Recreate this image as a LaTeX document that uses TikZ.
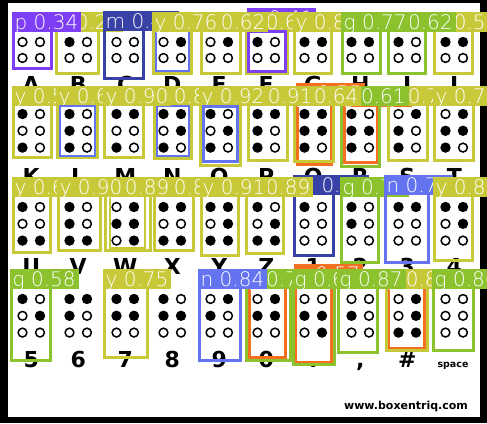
\documentclass[tikz,border=0pt]{standalone}
\usepackage{fontspec}
\setmainfont{DejaVu Sans}
\newfontfamily\tabfont{DejaVu Sans ExtraLight}
\usetikzlibrary{positioning}

\definecolor{detyellow}{RGB}{199,201,56}
\definecolor{detgreen}{RGB}{139,194,45}
\definecolor{detpurple}{RGB}{125,62,245}
\definecolor{detnavy}{RGB}{56,66,166}
\definecolor{detblue}{RGB}{100,116,240}
\definecolor{detorange}{RGB}{243,112,32}

\tikzset{
  detline/.style={line width=3pt},
  thinline/.style={line width=1.8pt},
  dettab/.style={text=white, inner xsep=3pt, inner ysep=0pt, minimum height=20pt,
    text height=17.3pt, text depth=2.7pt, font=\tabfont\fontsize{20}{20}\selectfont},
  brlabel/.style={font=\fontsize{22}{22}\selectfont\bfseries, anchor=base, inner sep=0pt},
}

% one braille dot: x, y, filled?
\newcommand{\brdot}[3]{%
  \ifnum#3=1 \fill[black] (#1,#2) circle (5.2pt);%
  \else \draw[black, line width=1.5pt] (#1,#2) circle (4.4pt);\fi}

% a row of three-line cells: y of top dots, list i/d1/d4/d2/d5/d3/d6
\newcommand{\brrow}[2]{%
  \foreach \i/\a/\b/\c/\d/\e/\f in {#2}{
    \pgfmathsetmacro{\xl}{22.5+47*\i}
    \pgfmathsetmacro{\xr}{\xl+17.5}
    \brdot{\xl}{#1}{\a} \brdot{\xr}{#1}{\b}
    \brdot{\xl}{#1+16.8}{\c} \brdot{\xr}{#1+16.8}{\d}
    \brdot{\xl}{#1+33.6}{\e} \brdot{\xr}{#1+33.6}{\f}
  }}

% detection box with its tab: name, colour, x1, y1, x2, y2, label
\newcommand{\detbox}[7]{%
  \draw[detline, draw=#2] (#3,#4) rectangle (#5,#6);
  \node[dettab, fill=#2, anchor=north west] (#1) at (#3-1.5,#4-1.5) {#7};
}

\begin{document}
\begin{tikzpicture}[x=1pt,y=-1pt]
    \useasboundingbox (0,0) rectangle (487,423);
    \fill[black] (0,0) rectangle (487,423);
    \fill[white] (8,3) rectangle (480,417);

    % first row, only the two lower lines of a-j
    \foreach \i/\a/\b/\c/\d in {0/0/0/0/0, 1/1/0/0/0, 2/0/0/0/0, 3/0/1/0/0, 4/0/1/0/0,
                                5/1/0/0/0, 6/1/1/0/0, 7/1/1/0/0, 8/1/0/0/0, 9/1/1/0/0}{
      \pgfmathsetmacro{\xl}{22.5+47*\i}
      \pgfmathsetmacro{\xr}{\xl+17.5}
      \brdot{\xl}{42}{\a} \brdot{\xr}{42}{\b}
      \brdot{\xl}{58}{\c} \brdot{\xr}{58}{\d}
    }
    \brrow{114}{0/1/0/0/0/1/0, 1/1/0/1/0/1/0, 2/1/1/0/0/1/0, 3/1/1/0/1/1/0, 4/1/0/0/1/1/0,
                5/1/1/1/0/1/0, 6/1/1/1/1/1/0, 7/1/0/1/1/1/0, 8/0/1/1/0/1/0, 9/0/1/1/1/1/0}
    \brrow{207}{0/1/0/0/0/1/1, 1/1/0/1/0/1/1, 2/0/1/1/1/0/1, 3/1/1/0/0/1/1, 4/1/1/0/1/1/1,
                5/1/0/0/1/1/1, 6/1/0/0/0/0/0, 7/1/0/1/0/0/0, 8/1/1/0/0/0/0, 9/1/1/0/1/0/0}
    \brrow{299}{0/1/0/0/1/0/0, 1/1/1/1/0/0/0, 2/1/1/1/1/0/0, 3/1/0/1/1/0/0, 4/0/1/1/0/0/0,
                5/0/1/1/1/0/0, 6/0/0/1/1/0/1, 7/0/0/1/0/0/0, 8/0/1/0/1/1/1, 9/0/0/0/0/0/0}

    % labels under the cells
    \foreach \i/\t in {0/A,1/B,2/C,3/D,4/E,5/F,6/G,7/H,8/I,9/J}
      \node[brlabel] (top\i) at (31.25+47*\i,92) {\t};
    \foreach \i/\t in {0/K,1/L,2/M,3/N,4/O,5/P,6/Q,7/R,8/S,9/T}
      \node[brlabel] (mid\i) at (31.25+47*\i,184) {\t};
    \foreach \i/\t in {0/U,1/V,2/W,3/X,4/Y,5/Z,6/1,7/2,8/3,9/4}
      \node[brlabel] (low\i) at (31.25+47*\i,274) {\t};
    \foreach \i/\t in {0/5,1/6,2/7,3/8,4/9,5/0,6/.,7/{,},8/\#}
      \node[brlabel] (bot\i) at (31.25+47*\i,367) {\t};
    \node[brlabel, font=\fontsize{9.5}{10}\selectfont\bfseries] (bot9) at (453,367) {space};

    \node[font=\fontsize{11}{12}\selectfont\bfseries, inner sep=0pt] (site) at (406,406) {www.boxentriq.com};

    % detections, row a-j
    \detbox{boxFp}{detpurple}{248}{9}{285}{71}{p 0.41}
    \detbox{boxB}{detyellow}{56}{13}{98}{73}{y 0.29}
    \detbox{boxA}{detpurple}{13}{13}{51}{68}{p 0.34}
    \detbox{boxC}{detnavy}{104}{12}{143}{78}{m 0.45}
    \detbox{boxJ}{detyellow}{434}{13}{472}{73}{y 0.55}
    \detbox{boxF}{detyellow}{246}{13}{287}{73}{y 0.66}
    \draw[detline, detpurple] (248,31) rectangle (285,71);
    \detbox{boxE}{detyellow}{201}{13}{240}{73}{y 0.62}
    \draw[thinline, detblue] (156,31) rectangle (189,71);
    \detbox{boxD}{detyellow}{153}{13}{191}{73}{y 0.76}
    \detbox{boxG}{detyellow}{294}{13}{331}{73}{y 0.81}
    \detbox{boxI}{detgreen}{388}{13}{425}{73}{g 0.62}
    \detbox{boxH}{detgreen}{342}{13}{380}{73}{g 0.77}

    % detections, row k-t
    \detbox{boxQo}{detorange}{297}{84}{331}{164}{o 0.55}
    \detbox{boxRo}{detorange}{344}{88}{377}{162}{o 0.52}
    \detbox{boxK}{detyellow}{13}{87}{51}{157}{y 0.58}
    \detbox{boxL}{detyellow}{57}{87}{97}{157}{y 0.66}
    \draw[thinline, detblue] (60,106) rectangle (95,156);
    \detbox{boxN}{detyellow}{154}{87}{191}{158}{y 0.87}
    \draw[thinline, detblue] (157,106) rectangle (189,156);
    \detbox{boxM}{detyellow}{104}{87}{143}{157}{y 0.90}
    \detbox{boxS}{detyellow}{388}{87}{427}{160}{y 0.73}
    \detbox{boxT}{detyellow}{434}{87}{473}{160}{y 0.78}
    \detbox{boxR}{detgreen}{341}{87}{379}{166}{g 0.61}
    \detbox{boxQ}{detyellow}{294}{87}{333}{161}{y 0.64}
    \detbox{boxP}{detyellow}{248}{87}{287}{160}{y 0.91}
    \detbox{boxO}{detyellow}{200}{87}{240}{165}{y 0.92}
    \draw[detline, detblue] (203,106) rectangle (237,161);

    % detections, row u-4
    \detbox{boxU}{detyellow}{13}{178}{50}{252}{y 0.64}
    \detbox{boxX}{detyellow}{154}{178}{193}{250}{y 0.88}
    \draw[thinline, detyellow] (110,196) rectangle (145,248);
    \detbox{boxW}{detyellow}{105}{178}{150}{250}{y 0.89}
    \detbox{boxV}{detyellow}{58}{178}{100}{250}{y 0.90}
    \detbox{boxOne}{detnavy}{294}{176}{333}{255}{m 0.53}
    \detbox{boxZ}{detyellow}{246}{178}{283}{253}{y 0.89}
    \detbox{boxY}{detyellow}{201}{178}{238}{255}{y 0.91}
    \detbox{boxTwo}{detgreen}{341}{178}{378}{262}{g 0.74}
    \detbox{boxThree}{detblue}{385}{176}{428}{262}{n 0.71}
    \detbox{boxFour}{detyellow}{434}{178}{472}{260}{y 0.85}

    % detections, row 5-space
    \detbox{boxFive}{detgreen}{11}{270}{50}{360}{g 0.58}
    \detbox{boxSeven}{detyellow}{104}{270}{147}{357}{y 0.75}
    \detbox{boxDoto}{detorange}{295}{265}{331}{362}{o 0.57}
    \draw[detline, detorange] (249,282) rectangle (285,357);
    \draw[detline, detorange] (388,282) rectangle (424,348);
    \detbox{boxZero}{detgreen}{246}{270}{290}{360}{g 0.79}
    \detbox{boxNine}{detblue}{199}{270}{240}{360}{n 0.84}
    \detbox{boxDot}{detgreen}{293}{270}{334}{364}{g 0.68}
    \detbox{boxHash}{detyellow}{386}{270}{427}{350}{y 0.82}
    \detbox{boxComma}{detgreen}{338}{270}{377}{352}{g 0.87}
    \detbox{boxSpace}{detgreen}{433}{270}{473}{350}{g 0.86}
\end{tikzpicture}
\end{document}
